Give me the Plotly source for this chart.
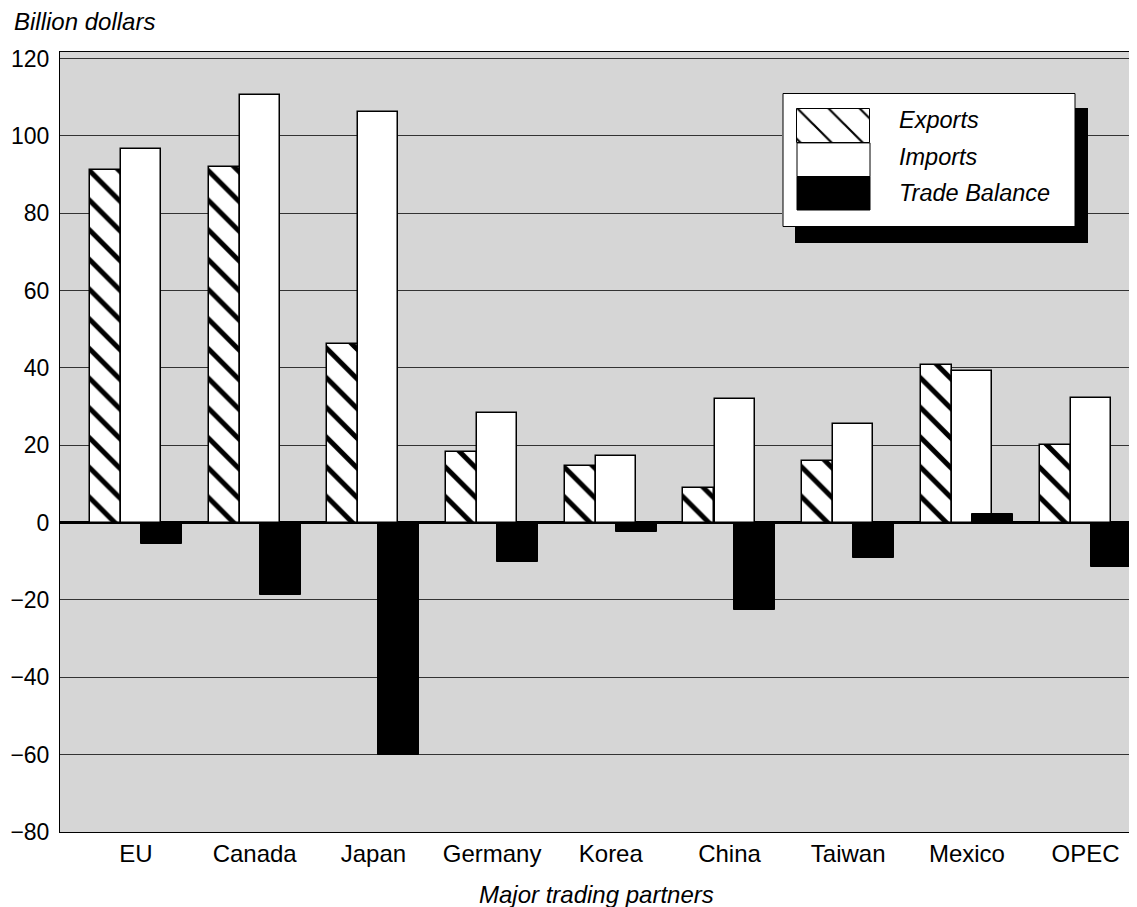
import plotly.graph_objects as go

# ---- data ----
partners = ["EU", "Canada", "Japan", "Germany", "Korea", "China", "Taiwan", "Mexico", "OPEC"]
exports = [91.2, 91.9, 46.2, 18.2, 14.6, 9.0, 16.0, 40.8, 20.0]
imports = [96.6, 110.6, 106.3, 28.3, 17.3, 31.9, 25.4, 39.2, 32.3]
balance = [-5.4, -18.6, -60.2, -10.1, -2.4, -22.5, -9.1, 2.2, -11.4]
y_ticks = [-80, -60, -40, -20, 0, 20, 40, 60, 80, 100, 120]
series_names = ["Exports", "Imports", "Trade Balance"]

FONT = "Liberation Sans, Arial, Helvetica, sans-serif"
BG = "#d6d6d6"
OFF = 8  # page body margin
W, H = 1137 - OFF, 907 - OFF
L, R, T, B = 60 - OFF, 0, 52 - OFF, 75
PW, PH = W - L - R, H - T - B

def px_x(p):  # reference pixel -> paper x
    return (p - OFF - L) / PW

def px_y(p):  # reference pixel -> paper y
    return (H - B - (p - OFF)) / PH

fig = go.Figure()

fig.add_trace(go.Bar(
    x=partners, y=exports, name=series_names[0],
    offset=-0.388, width=0.261,
    marker=dict(color="white",
                pattern=dict(shape="\\", fgcolor="black", bgcolor="white", fgopacity=1,
                             fillmode="replace", size=21, solidity=0.24),
                line=dict(color="black", width=1.5)),
))
fig.add_trace(go.Bar(
    x=partners, y=imports, name=series_names[1],
    offset=-0.126, width=0.337,
    marker=dict(color="white", line=dict(color="black", width=1.5)),
))
fig.add_trace(go.Bar(
    x=partners, y=balance, name=series_names[2],
    offset=0.042, width=0.345,
    marker=dict(color="black", line=dict(color="black", width=1)),
))

# ---- legend (decoration drawn in a pixel-unit helper axis) ----
LBX0, LBX1, LBY0, LBY1 = 782, 1088, 93, 243
fig.add_trace(go.Bar(
    x=[833.5], y=[33.6], base=[109.3], width=[73], xaxis="x2", yaxis="y2",
    marker=dict(color="white",
                pattern=dict(shape="\\", fgcolor="black", bgcolor="white", fgopacity=1,
                             fillmode="replace", size=22, solidity=0.1),
                line=dict(color="black", width=1)),
    showlegend=False, hoverinfo="skip",
))

shapes = [
    dict(type="rect", xref="x2", yref="y2", x0=795, x1=1088, y0=108, y1=243,
         fillcolor="black", line=dict(width=0), layer="below"),
    dict(type="rect", xref="x2", yref="y2", x0=783, x1=1075, y0=93.5, y1=226.5,
         fillcolor="white", line=dict(color="black", width=1), layer="below"),
    dict(type="rect", xref="x2", yref="y2", x0=797, x1=870, y0=142.9, y1=176.5,
         fillcolor="white", line=dict(color="black", width=1), layer="below"),
    dict(type="rect", xref="x2", yref="y2", x0=797, x1=870, y0=176.5, y1=210,
         fillcolor="black", line=dict(color="black", width=1), layer="below"),
]

annotations = [
    dict(text="<i>Billion dollars</i>", xref="paper", yref="paper",
         x=px_x(12), y=px_y(22), xanchor="left", yanchor="middle", showarrow=False,
         font=dict(family=FONT, size=24, color="black")),
    dict(text="<i>Major trading partners</i>", xref="paper", yref="paper",
         x=px_x(596), y=px_y(894), xanchor="center", yanchor="middle", showarrow=False,
         font=dict(family=FONT, size=24, color="black")),
]
for name, ycen in zip(series_names, [120, 157, 193]):
    annotations.append(dict(text="<i>%s</i>" % name, xref="paper", yref="paper",
                            x=px_x(897), y=px_y(ycen), xanchor="left", yanchor="middle",
                            showarrow=False, font=dict(family=FONT, size=23.5, color="black")))

fig.update_layout(
    width=W, height=H,
    margin=dict(l=L, r=R, t=T, b=B, pad=0),
    paper_bgcolor="white", plot_bgcolor=BG,
    barmode="overlay", bargap=0,
    showlegend=False,
    font=dict(family=FONT, size=24, color="black"),
    xaxis=dict(range=[-0.640, 8.433], tickfont=dict(size=24), showgrid=False,
               showline=True, linecolor="black", linewidth=1, mirror=True,
               ticks="", zeroline=False),
    yaxis=dict(range=[-80, 121.7], tickvals=y_ticks, tickfont=dict(size=23),
               showgrid=True, gridcolor="#333333", gridwidth=1,
               zeroline=True, zerolinecolor="black", zerolinewidth=3,
               showline=True, linecolor="black", linewidth=1, mirror=True,
               ticks="outside", ticklen=5, tickcolor="rgba(0,0,0,0)"),
    xaxis2=dict(domain=[px_x(LBX0), px_x(LBX1)], range=[LBX0, LBX1], anchor="y2",
                visible=False, fixedrange=True),
    yaxis2=dict(domain=[px_y(LBY1), px_y(LBY0)], range=[LBY1, LBY0], anchor="x2",
                visible=False, fixedrange=True),
    shapes=shapes,
    annotations=annotations,
)

fig.write_html("out.html")
